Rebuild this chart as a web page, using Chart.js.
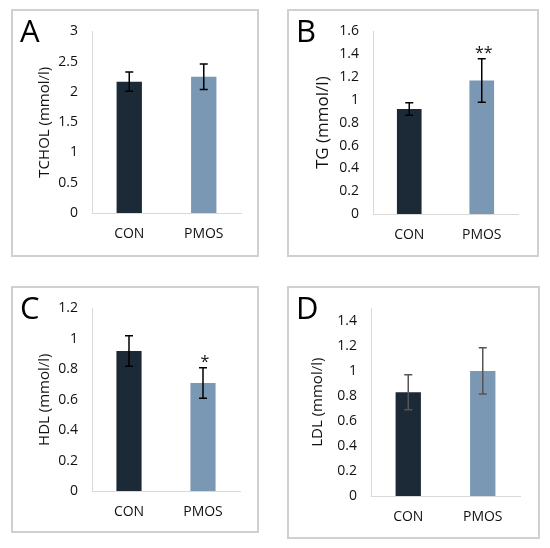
<!DOCTYPE html>
<html>
<head>
<meta charset="utf-8">
<script src="https://cdn.jsdelivr.net/npm/chart.js@4"></script>
<style>
body { margin: 0; background: #fff; width: 550px; height: 548px; position: relative; overflow: hidden; }
canvas { position: absolute; }
.frame { position: absolute; border: 2px solid #d0d0d0; box-sizing: border-box; pointer-events: none; }
</style>
</head>
<body>
<canvas id="chartA"></canvas>
<canvas id="chartB"></canvas>
<canvas id="chartC"></canvas>
<canvas id="chartD"></canvas>
<script>
const groups = ['CON', 'PMOS'];

const tcholMean = [2.17, 2.25];
const tcholErr = [0.16, 0.21];
const tgMean = [0.92, 1.17];
const tgErr = [0.055, 0.19];
const hdlMean = [0.92, 0.71];
const hdlErr = [0.10, 0.10];
const ldlMean = [0.83, 1.0];
const ldlErr = [0.14, 0.185];

// axis ranges: [max, step]
const tcholAxis = [3, 0.5];
const tgAxis = [1.6, 0.2];
const hdlAxis = [1.2, 0.2];
const ldlAxis = [1.5, 0.2];

const tgSig = ['', '**'];
const hdlSig = ['', '*'];

const barColors = ['#1c2937', '#7a97b3'];
const fontFam = '"Open Sans", sans-serif';

function panel(id, box, plot, letter, title, titleSize, titleX, means, errs, axis, sig, errColor) {
    const w = box[2] - box[0], h = box[3] - box[1];
    const cv = document.getElementById(id);
    cv.width = w; cv.height = h;
    cv.style.left = box[0] + 'px'; cv.style.top = box[1] + 'px';
    cv.style.width = w + 'px'; cv.style.height = h + 'px';

    const fr = document.createElement('div');
    fr.className = 'frame';
    fr.style.left = box[0] + 'px'; fr.style.top = box[1] + 'px';
    fr.style.width = w + 'px'; fr.style.height = h + 'px';
    document.body.appendChild(fr);

    const lh = titleSize * 1.2;

    const extras = {
        id: 'extras',
        afterDatasetsDraw(chart) {
            const c = chart.ctx;
            const ys = chart.scales.y;
            const meta = chart.getDatasetMeta(0);
            c.save();
            c.strokeStyle = errColor;
            c.lineWidth = 1.5;
            meta.data.forEach((bar, i) => {
                const top = ys.getPixelForValue(means[i] + errs[i]);
                const bot = ys.getPixelForValue(means[i] - errs[i]);
                c.beginPath();
                c.moveTo(bar.x, top); c.lineTo(bar.x, bot);
                c.moveTo(bar.x - 4, top); c.lineTo(bar.x + 4, top);
                c.moveTo(bar.x - 4, bot); c.lineTo(bar.x + 4, bot);
                c.stroke();
                if (sig && sig[i]) {
                    c.fillStyle = '#111';
                    c.font = '16px ' + fontFam;
                    c.textAlign = 'center';
                    c.textBaseline = 'alphabetic';
                    c.fillText(sig[i], bar.x + 2, top - 1);
                }
            });
            // panel letter
            c.fillStyle = '#000';
            c.font = '31px ' + fontFam;
            c.textAlign = 'left';
            c.textBaseline = 'alphabetic';
            c.fillText(letter, 9, 33);
            c.restore();
        }
    };

    return new Chart(cv.getContext('2d'), {
        type: 'bar',
        data: {
            labels: groups,
            datasets: [{
                data: means,
                backgroundColor: barColors,
                barPercentage: 0.34,
                categoryPercentage: 1
            }]
        },
        options: {
            responsive: false,
            animation: false,
            layout: {
                padding: { left: 0, top: plot[1] - box[1], right: box[2] - plot[2], bottom: 0 }
            },
            plugins: { legend: { display: false }, tooltip: { enabled: false } },
            scales: {
                x: {
                    grid: { display: false, drawTicks: false },
                    border: { display: true, color: '#d9d9d9', width: 1 },
                    ticks: { color: '#111', font: { family: fontFam, size: 14 }, padding: 13 },
                    afterFit: s => { s.height = box[3] - plot[3]; }
                },
                y: {
                    min: 0,
                    max: axis[0],
                    grid: { display: false, drawTicks: false },
                    border: { display: true, color: '#d9d9d9', width: 1 },
                    ticks: {
                        stepSize: axis[1],
                        includeBounds: false,
                        padding: 14,
                        color: '#111',
                        font: { family: fontFam, size: 14 },
                        callback: v => String(Number(v.toFixed(2)))
                    },
                    title: {
                        display: true,
                        text: title,
                        color: '#111',
                        font: { family: fontFam, size: titleSize },
                        padding: { top: titleX - lh / 2, bottom: 0 }
                    },
                    afterFit: s => { s.width = plot[0] - box[0]; }
                }
            }
        },
        plugins: [extras]
    });
}

panel('chartA', [11, 9, 259, 257], [92, 28, 241, 213], 'A', 'TCHOL (mmol/l)', 15, 34,
    tcholMean, tcholErr, tcholAxis, null, '#000');
panel('chartB', [287, 9, 539, 257], [373, 28, 518, 214], 'B', 'TG (mmol/l)', 17, 36,
    tgMean, tgErr, tgAxis, tgSig, '#000');
panel('chartC', [11, 286, 259, 533], [92, 306, 240, 491], 'C', 'HDL (mmol/l)', 15, 34,
    hdlMean, hdlErr, hdlAxis, hdlSig, '#000');
panel('chartD', [287, 286, 540, 539], [371, 306, 520, 496], 'D', 'LDL (mmol/l)', 15, 31,
    ldlMean, ldlErr, ldlAxis, null, '#555');
</script>
</body>
</html>
